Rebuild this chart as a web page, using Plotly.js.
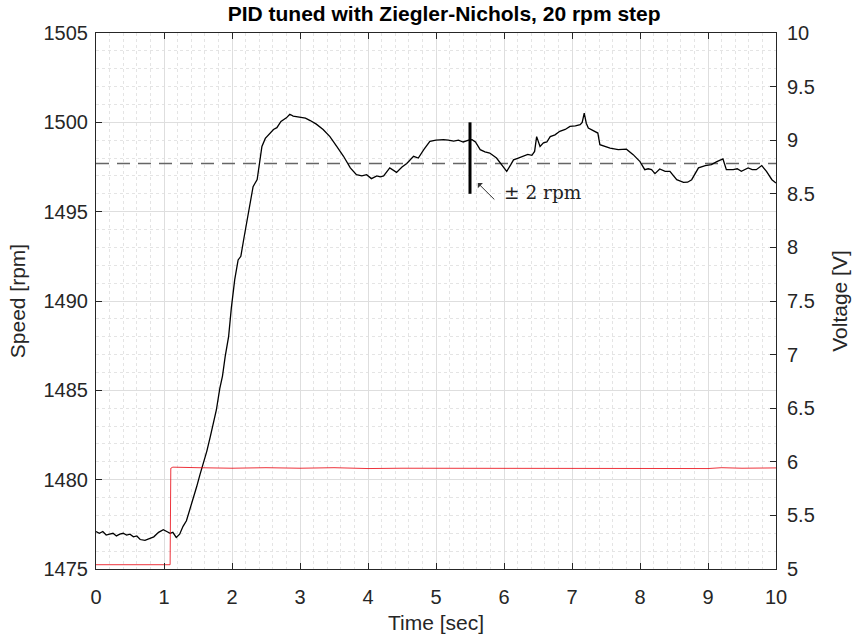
<!DOCTYPE html>
<html>
<head>
<meta charset="utf-8">
<script src="https://cdn.plot.ly/plotly-3.0.1.min.js"></script>
<style>html,body{margin:0;padding:0;background:#fff;}#chart{width:852px;height:639px;}</style>
</head>
<body>
<div id="chart"></div>
<script>
// Speed measurement (rpm) vs time (sec)
var speedTime = [0,0.05,0.1,0.15,0.2,0.25,0.3,0.35,0.4,0.45,0.5,0.55,0.6,0.65,0.72,0.78,0.85,0.92,0.99,1.04,1.09,1.13,1.18,1.23,1.28,1.33,1.38,1.43,1.48,1.53,1.58,1.63,1.68,1.73,1.77,1.82,1.86,1.90,1.95,1.99,2.04,2.09,2.13,2.17,2.21,2.24,2.28,2.31,2.37,2.41,2.44,2.49,2.56,2.61,2.66,2.72,2.80,2.85,2.90,3.0,3.08,3.15,3.24,3.34,3.44,3.54,3.64,3.74,3.83,3.91,3.98,4.05,4.13,4.18,4.23,4.32,4.42,4.50,4.57,4.67,4.74,4.82,4.91,5.0,5.11,5.18,5.26,5.33,5.40,5.48,5.53,5.58,5.65,5.72,5.79,5.89,5.98,6.04,6.10,6.14,6.21,6.28,6.35,6.41,6.45,6.48,6.53,6.58,6.63,6.68,6.75,6.82,6.90,6.97,7.05,7.12,7.15,7.18,7.21,7.24,7.34,7.38,7.41,7.48,7.56,7.68,7.80,7.90,8.0,8.07,8.12,8.17,8.22,8.29,8.37,8.44,8.54,8.64,8.70,8.76,8.81,8.86,8.96,9.05,9.13,9.22,9.27,9.37,9.43,9.49,9.59,9.65,9.71,9.79,9.86,9.94,10.0];
var speedRpm = [1477.1,1477.0,1477.1,1476.9,1476.95,1477.0,1476.85,1476.95,1477.0,1476.9,1476.95,1476.8,1476.85,1476.65,1476.6,1476.7,1476.8,1477.05,1477.2,1477.1,1477.0,1477.05,1476.77,1476.95,1477.39,1477.7,1478.3,1478.9,1479.6,1480.3,1480.94,1481.6,1482.4,1483.3,1483.9,1485.1,1485.8,1486.9,1488.0,1489.6,1491.2,1492.3,1492.5,1493.4,1494.2,1495.0,1495.67,1496.4,1496.8,1497.9,1498.65,1499.1,1499.4,1499.6,1499.7,1500.05,1500.25,1500.45,1500.35,1500.3,1500.24,1500.1,1499.9,1499.6,1499.2,1498.65,1498.1,1497.45,1497.07,1497.0,1497.07,1496.85,1497.0,1496.95,1497.0,1497.45,1497.2,1497.5,1497.7,1498.1,1498.0,1498.47,1498.93,1499.0,1499.03,1499.0,1498.95,1499.0,1498.9,1499.0,1499.03,1498.9,1498.47,1498.35,1498.28,1498.0,1497.53,1497.26,1497.63,1497.9,1498.0,1498.1,1498.2,1498.15,1498.37,1499.2,1498.65,1498.85,1498.9,1499.2,1499.3,1499.5,1499.6,1499.77,1499.8,1499.87,1500.0,1500.52,1499.95,1499.68,1499.5,1499.4,1498.75,1498.65,1498.56,1498.47,1498.5,1498.19,1497.8,1497.35,1497.4,1497.35,1497.13,1497.39,1497.26,1497.26,1496.79,1496.64,1496.65,1496.79,1497.1,1497.45,1497.58,1497.63,1497.8,1497.95,1497.35,1497.35,1497.4,1497.26,1497.45,1497.35,1497.35,1497.58,1497.26,1496.79,1496.6];

// Control voltage (V) vs time (sec)
var voltTime = [0,0.3,0.6,0.9,1.09,1.1,1.13,1.5,2.0,2.5,3.0,3.5,4.0,4.5,5.0,5.5,6.0,6.5,7.0,7.5,8.0,8.5,9.0,9.2,9.5,10.0];
var voltV = [5.04,5.04,5.035,5.04,5.04,5.94,5.95,5.945,5.94,5.945,5.94,5.945,5.937,5.94,5.94,5.937,5.943,5.94,5.94,5.937,5.94,5.94,5.937,5.945,5.94,5.943];

// Reference (setpoint) and tolerance band marker
var setpointTime = [0, 10];
var setpointRpm = [1497.7, 1497.7];
var bandTime = [5.5, 5.5];
var bandRpm = [1496, 1500];

var xTicks = [0,1,2,3,4,5,6,7,8,9,10];
var yLeftTicks = [1475,1480,1485,1490,1495,1500,1505];
var yRightTicks = [5,5.5,6,6.5,7,7.5,8,8.5,9,9.5,10];

var font = "'Liberation Sans', Arial, Helvetica, sans-serif";
var txt = '#262626';

var traces = [
  {x: setpointTime, y: setpointRpm, type:'scatter', mode:'lines', line:{color:'#666666', width:1.6, dash:'13px,8px'}, hoverinfo:'skip'},
  {x: voltTime, y: voltV, yaxis:'y2', type:'scatter', mode:'lines', line:{color:'#e8000b', width:1, shape:'linear'}, opacity:0.8},
  {x: speedTime, y: speedRpm, type:'scatter', mode:'lines', line:{color:'#000000', width:1.3}},
  {x: bandTime, y: bandRpm, type:'scatter', mode:'lines', line:{color:'#000000', width:3}}
];

var axisCommon = {
  showline:true, linecolor:'#262626', linewidth:1,
  ticks:'inside', ticklen:6, tickcolor:'#262626', tickwidth:1,
  tickfont:{family:font, size:20, color:txt},
  zeroline:false, automargin:false
};

var layout = {
  width:852, height:639,
  margin:{l:96, r:76, t:33, b:70},
  paper_bgcolor:'#ffffff', plot_bgcolor:'#ffffff',
  showlegend:false,
  title:{text:'<b>PID tuned with Ziegler-Nichols, 20 rpm step</b>', font:{family:font, size:21, color:'#000'}, x:0.512, xref:'paper', xanchor:'center', y:0.978, yanchor:'middle'},
  xaxis: Object.assign({}, axisCommon, {
    range:[0,10], tickvals:xTicks, ticktext:xTicks.map(String), mirror:'ticks',
    ticklabelstandoff:10,
    showgrid:true, gridcolor:'#dedede', gridwidth:1,
    minor:{dtick:0.2, showgrid:true, gridcolor:'#e4e4e4', griddash:'dot', gridwidth:1, ticks:''},
    title:{text:'Time [sec]', font:{family:font, size:21, color:txt}, standoff:8}
  }),
  yaxis: Object.assign({}, axisCommon, {
    range:[1475,1505], tickvals:yLeftTicks, ticktext:yLeftTicks.map(String),
    ticklabelstandoff:3,
    showgrid:true, gridcolor:'#dedede', gridwidth:1,
    minor:{dtick:1, showgrid:true, gridcolor:'#e4e4e4', griddash:'dot', gridwidth:1, ticks:''},
    title:{text:'Speed [rpm]', font:{family:font, size:21, color:txt}, standoff:12}
  }),
  yaxis2: Object.assign({}, axisCommon, {
    range:[5,10], tickvals:yRightTicks, ticktext:yRightTicks.map(String),
    ticklabelstandoff:6,
    overlaying:'y', side:'right', showgrid:false,
    title:{text:'Voltage [V]', font:{family:font, size:21, color:txt}, standoff:18}
  }),
  annotations:[
    {x:5.615, y:1496.6, xref:'x', yref:'y', ax:5.88, ay:1495.6, axref:'x', ayref:'y', showarrow:true, arrowhead:1, arrowsize:1.2, arrowwidth:1, arrowcolor:'#333', text:''},
    {x:6.57, y:1496.1, xref:'x', yref:'y', text:'± 2 rpm', showarrow:false, font:{family:"'DejaVu Serif', 'Liberation Serif', serif", size:18.5, color:'#222'}, xanchor:'center', yanchor:'middle'}
  ]
};

Plotly.newPlot('chart', traces, layout, {displayModeBar:false, staticPlot:true});
</script>
</body>
</html>
